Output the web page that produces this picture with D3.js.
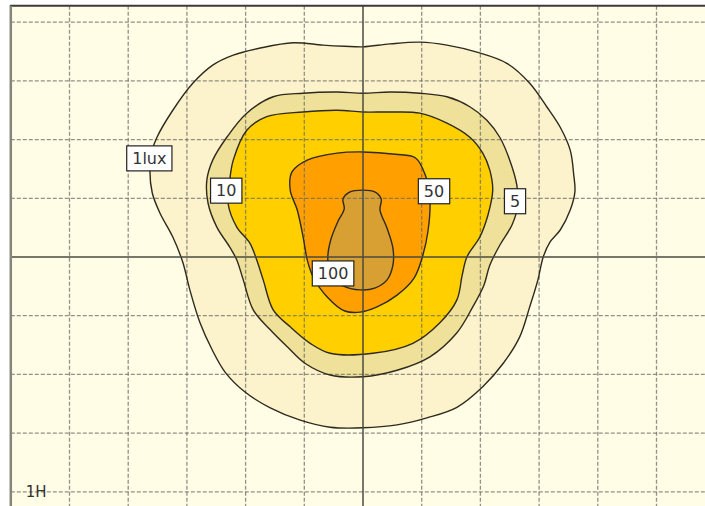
<!DOCTYPE html>
<html><head><meta charset="utf-8">
<script src="https://cdn.jsdelivr.net/npm/d3@7"></script>
<style>html,body{margin:0;padding:0;background:#fff;}svg{display:block;}</style>
</head><body>
<svg id="chart" width="705" height="506"></svg>
<script>
// Isolux levels (lux) and their contours in units of mounting height H
const levels = [1, 5, 10, 50, 100];
const levelColors = ["#FCF2CC", "#EFE199", "#FFCF00", "#FF9F00", "#D8A032"];
const iso1 = [[0,3.58],[0.46,3.63],[0.97,3.66],[1.43,3.61],[1.94,3.49],[2.45,3.30],[2.84,2.96],[3.13,2.56],[3.36,2.21],[3.53,1.82],[3.59,1.40],[3.61,1.11],[3.53,0.80],[3.36,0.46],[3.19,0.26],[3.07,0],[2.98,-0.39],[2.84,-0.85],[2.67,-1.36],[2.39,-1.81],[2.04,-2.21],[1.60,-2.56],[1.09,-2.74],[0.58,-2.86],[0,-2.91],[-0.56,-2.90],[-1.07,-2.78],[-1.58,-2.57],[-2.01,-2.30],[-2.35,-1.96],[-2.57,-1.58],[-2.78,-1.11],[-2.95,-0.56],[-3.07,-0.09],[-3.24,0.34],[-3.46,0.75],[-3.59,1.09],[-3.63,1.48],[-3.59,1.82],[-3.51,2.04],[-3.24,2.50],[-2.90,2.96],[-2.56,3.27],[-2.21,3.44],[-1.75,3.56],[-1.19,3.65],[-0.68,3.61],[-0.31,3.59]];
const iso5 = [[0,2.79],[0.46,2.81],[0.97,2.79],[1.43,2.73],[1.82,2.56],[2.11,2.33],[2.33,2.04],[2.50,1.65],[2.62,1.23],[2.64,0.89],[2.54,0.55],[2.33,0.20],[2.16,-0.14],[2.06,-0.48],[1.87,-0.85],[1.60,-1.29],[1.14,-1.70],[0.58,-1.93],[0,-2.04],[-0.56,-2.01],[-0.99,-1.81],[-1.29,-1.53],[-1.58,-1.24],[-1.87,-0.90],[-2.04,-0.39],[-2.15,-0.05],[-2.27,0.17],[-2.49,0.51],[-2.64,0.92],[-2.66,1.31],[-2.56,1.65],[-2.32,2.04],[-1.98,2.45],[-1.53,2.73],[-1.02,2.79],[-0.44,2.81]];
const iso10 = [[0,2.47],[0.46,2.47],[0.97,2.45],[1.43,2.28],[1.82,2.04],[2.04,1.77],[2.16,1.48],[2.21,1.14],[2.13,0.72],[1.99,0.34],[1.77,0],[1.69,-0.31],[1.60,-0.73],[1.31,-1.12],[0.85,-1.47],[0.17,-1.64],[-0.56,-1.64],[-0.90,-1.47],[-1.24,-1.19],[-1.53,-0.90],[-1.70,-0.39],[-1.81,-0.05],[-1.93,0.24],[-2.15,0.51],[-2.30,0.92],[-2.27,1.31],[-2.21,1.65],[-1.98,2.16],[-1.64,2.39],[-1.02,2.47],[-0.44,2.50]];
const iso50 = [[0,1.79],[0.55,1.75],[0.89,1.69],[1.06,1.40],[1.14,0.97],[1.11,0.46],[1.02,0.03],[0.87,-0.36],[0.58,-0.65],[0.24,-0.85],[-0.05,-0.94],[-0.31,-0.92],[-0.61,-0.68],[-0.85,-0.34],[-0.95,-0.05],[-1.02,0.34],[-1.12,0.80],[-1.24,1.14],[-1.21,1.45],[-0.95,1.65],[-0.44,1.77]];
const iso100 = [[0,1.14],[0.20,1.11],[0.31,0.99],[0.29,0.80],[0.41,0.49],[0.51,0.15],[0.51,-0.14],[0.41,-0.39],[0.20,-0.53],[-0.05,-0.56],[-0.34,-0.49],[-0.55,-0.31],[-0.60,-0.02],[-0.55,0.29],[-0.43,0.60],[-0.32,0.82],[-0.34,0.99],[-0.22,1.11]];
const contours = [iso1, iso5, iso10, iso50, iso100];
// Label texts and positions (H units)
const labelTexts = ["1lux", "5", "10", "50", "100"];
const labelPos = [[-3.64,1.68],[2.59,0.95],[-2.33,1.13],[1.21,1.12],[-0.51,-0.28]];
const xTicks = [-6,-5,-4,-3,-2,-1,0,1,2,3,4,5,6];
const yTicks = [-4,-3,-2,-1,0,1,2,3,4];
const unitLabel = "1H";

const svg = d3.select("#chart");
const W = 705, H = 506;
const x = d3.scaleLinear().domain([-6, 6]).range([10.8, 715.2]);
const y = d3.scaleLinear().domain([-4, 4]).range([491.8, 22.2]);
const topY = y(4.28);

// plot background
svg.append("rect").attr("x", x(-6)).attr("y", topY).attr("width", W - x(-6)).attr("height", H - topY).attr("fill", "#FFFDE6");

const line = d3.line().x(d => x(d[0])).y(d => y(d[1])).curve(d3.curveCatmullRomClosed.alpha(0.5));

// fills
svg.append("g").selectAll("path").data(contours).join("path")
  .attr("d", d => line(d)).attr("fill", (d, i) => levelColors[i]).attr("stroke", "none");

// grid
const grid = svg.append("g").attr("stroke", "rgba(110,110,100,0.75)").attr("stroke-width", 1.3).attr("stroke-dasharray", "4,2");
grid.selectAll("line.v").data(xTicks.filter(t => t !== 0 && t !== -6)).join("line").attr("class", "v")
  .attr("x1", d => x(d)).attr("x2", d => x(d)).attr("y1", topY).attr("y2", H);
grid.selectAll("line.h").data(yTicks.filter(t => t !== 0)).join("line").attr("class", "h")
  .attr("x1", x(-6)).attr("x2", W).attr("y1", d => y(d)).attr("y2", d => y(d));

// contour strokes
svg.append("g").selectAll("path").data(contours).join("path")
  .attr("d", d => line(d)).attr("fill", "none").attr("stroke", "#2e2a1e").attr("stroke-width", 1.4);

// axes through origin
svg.append("line").attr("x1", x(0)).attr("x2", x(0)).attr("y1", topY).attr("y2", H).attr("stroke", "#4a4a40").attr("stroke-width", 1.5);
svg.append("line").attr("x1", x(-6)).attr("x2", W).attr("y1", y(0)).attr("y2", y(0)).attr("stroke", "#4a4a40").attr("stroke-width", 1.5);

// frame
svg.append("line").attr("x1", x(-6) - 1).attr("x2", W).attr("y1", topY).attr("y2", topY).attr("stroke", "#3a3a3a").attr("stroke-width", 2);
svg.append("line").attr("x1", x(-6)).attr("x2", x(-6)).attr("y1", topY).attr("y2", H).attr("stroke", "#85857a").attr("stroke-width", 2.5);

// labels
const lg = svg.append("g").attr("font-family", "DejaVu Sans, sans-serif").attr("font-size", 16);
labelTexts.forEach((t, i) => {
  const g = lg.append("g");
  const txt = g.append("text").attr("x", x(labelPos[i][0])).attr("y", y(labelPos[i][1]))
    .attr("text-anchor", "middle").attr("dominant-baseline", "central").attr("fill", "#333").text(t);
  const bb = txt.node().getBBox();
  g.insert("rect", "text").attr("x", bb.x - 5.5).attr("y", y(labelPos[i][1]) - 12.5)
    .attr("width", bb.width + 11).attr("height", 25).attr("fill", "#fff").attr("stroke", "#222").attr("stroke-width", 1.2);
});

svg.append("text").attr("x", x(-6) + 15).attr("y", 497).attr("font-family", "DejaVu Sans, sans-serif")
  .attr("font-size", 15).attr("fill", "#333").text(unitLabel);
</script>
</body></html>
